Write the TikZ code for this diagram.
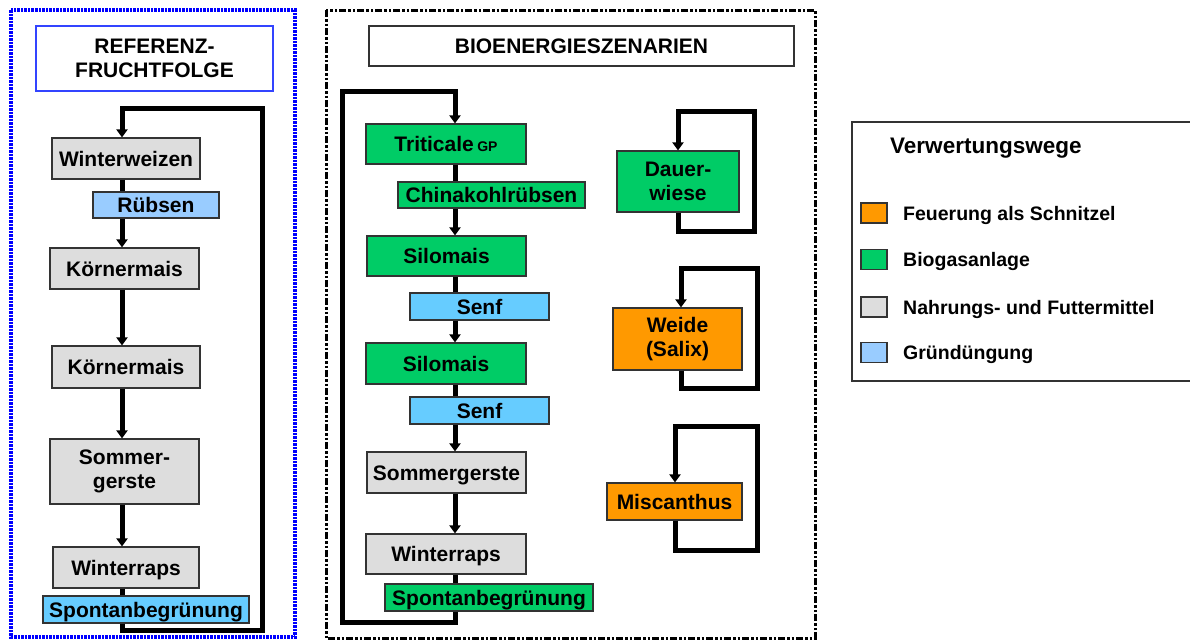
\documentclass[tikz,border=0pt]{standalone}
\usepackage{fontspec}
\setmainfont{Liberation Sans}
\usetikzlibrary{arrows.meta}
\definecolor{cgreen}{HTML}{00CC66}
\definecolor{corange}{HTML}{FF9900}
\definecolor{cgray}{HTML}{DDDDDD}
\definecolor{cblue}{HTML}{99CCFF}
\definecolor{ccyan}{HTML}{66CCFF}
\definecolor{frameblue}{HTML}{0000FF}
\definecolor{titleblue}{HTML}{3344FF}
\definecolor{edge}{HTML}{333333}
\begin{document}
\begin{tikzpicture}[x=1pt,y=-1pt,
  crop/.style={draw=edge, line width=1.2pt, inner sep=0pt, font=\fontsize{21}{24}\selectfont\bfseries},
  one/.style={crop, text height=15pt, text depth=0pt},
  multi/.style={crop, align=center},
  flow/.style={line width=5pt, line join=miter, -{Triangle[width=11pt,length=8pt]}},
  link/.style={line width=5pt, line join=miter},
  legtext/.style={anchor=west, inner sep=0pt, font=\fontsize{19.5}{22}\selectfont\bfseries, text height=14pt, text depth=0pt},
  swatch/.style={draw=edge, line width=1.2pt, minimum width=26pt, minimum height=20pt, inner sep=0pt},
]
\useasboundingbox (0,0) rectangle (1190,641);
\clip (0,0) rectangle (1190,641);

% frames
\draw[frameblue, line width=3.5pt, dash pattern=on 2.5pt off 1pt] (11,10) rectangle (295,637);
\draw[black, line width=3pt, dash pattern=on 7pt off 2pt on 2.5pt off 2pt on 2.5pt off 2pt] (326,10) rectangle (815,638);

% titles
\node[draw=titleblue, line width=1.2pt, minimum width=237pt, minimum height=65pt, inner sep=0pt, align=center,
      font=\fontsize{21}{24}\selectfont\bfseries] (t1) at (154.5,58.5) {REFERENZ-\\FRUCHTFOLGE};
\node[draw=edge, line width=1.5pt, minimum width=425pt, minimum height=40pt, inner sep=0pt,
      font=\fontsize{21}{24}\selectfont\bfseries, text height=15pt, text depth=0pt] (t2) at (581.5,46) {BIOENERGIESZENARIEN};

% left column
\node[one, fill=cgray, minimum width=148pt, minimum height=41pt] (ww) at (126,158.5) {Winterweizen};
\node[one, fill=cblue, minimum width=126pt, minimum height=26pt] (rueb) at (156,205) {Rübsen};
\node[one, fill=cgray, minimum width=149pt, minimum height=41pt] (km1) at (124.5,268.5) {Körnermais};
\node[one, fill=cgray, minimum width=148pt, minimum height=42pt] (km2) at (126,367) {Körnermais};
\node[multi, fill=cgray, minimum width=149pt, minimum height=65pt] (sg) at (124.5,471.5) {Sommer-\\gerste};
\node[one, fill=cgray, minimum width=146pt, minimum height=41pt] (wr) at (126,567.5) {Winterraps};
\node[one, fill=ccyan, minimum width=206pt, minimum height=27pt] (sp) at (146,609.5) {Spontanbegrünung};

\coordinate (L1) at (122,630);
\coordinate (L2) at (262,630);
\coordinate (L3) at (262,108);
\coordinate (L4) at (122,108);
\draw[link] (ww.south -| L1) -- (rueb.north -| L1);
\draw[flow] (rueb.south -| L1) -- (km1.north -| L1);
\draw[flow] (km1.south -| L1) -- (km2.north -| L1);
\draw[flow] (km2.south -| L1) -- (sg.north -| L1);
\draw[flow] (sg.south -| L1) -- (wr.north -| L1);
\draw[link] (wr.south -| L1) -- (sp.north -| L1);
\draw[flow] (sp.south -| L1) -- (L1) -- (L2) -- (L3) -- (L4) -- (ww.north -| L4);

% middle column
\node[one, fill=cgreen, minimum width=160pt, minimum height=40pt] (tri) at (446,144) {Triticale\,{\fontsize{14}{14}\selectfont GP}};
\node[one, fill=cgreen, minimum width=187pt, minimum height=26pt] (chk) at (491.5,195) {Chinakohlrübsen};
\node[one, fill=cgreen, minimum width=159pt, minimum height=40pt] (sm1) at (446.5,256) {Silomais};
\node[one, fill=ccyan, minimum width=139pt, minimum height=27pt] (senf1) at (479.5,306.5) {Senf};
\node[one, fill=cgreen, minimum width=160pt, minimum height=41pt] (sm2) at (446,363.5) {Silomais};
\node[one, fill=ccyan, minimum width=139pt, minimum height=27pt] (senf2) at (479.5,410.5) {Senf};
\node[one, fill=cgray, minimum width=159pt, minimum height=41pt] (sg2) at (446.5,472.5) {Sommergerste};
\node[one, fill=cgray, minimum width=160pt, minimum height=40pt] (wr2) at (446,554) {Winterraps};
\node[one, fill=cgreen, minimum width=208pt, minimum height=27pt] (sp2) at (489,597.5) {Spontanbegrünung};

\coordinate (M1) at (455,622);
\coordinate (M2) at (342,622);
\coordinate (M3) at (342,91);
\coordinate (M4) at (455,91);
\draw[link] (tri.south -| M1) -- (chk.north -| M1);
\draw[flow] (chk.south -| M1) -- (sm1.north -| M1);
\draw[link] (sm1.south -| M1) -- (senf1.north -| M1);
\draw[flow] (senf1.south -| M1) -- (sm2.north -| M1);
\draw[link] (sm2.south -| M1) -- (senf2.north -| M1);
\draw[flow] (senf2.south -| M1) -- (sg2.north -| M1);
\draw[flow] (sg2.south -| M1) -- (wr2.north -| M1);
\draw[link] (wr2.south -| M1) -- (sp2.north -| M1);
\draw[flow] (sp2.south -| M1) -- (M1) -- (M2) -- (M3) -- (M4) -- (tri.north -| M4);

% perennial crops
\node[multi, fill=cgreen, minimum width=122pt, minimum height=61pt] (dw) at (678,181.5) {Dauer-\\wiese};
\node[multi, fill=corange, minimum width=129pt, minimum height=62pt] (wd) at (677.5,339) {Weide\\(Salix)};
\node[one, fill=corange, minimum width=135pt, minimum height=37pt] (mc) at (674.5,501.5) {Miscanthus};

\coordinate (D1) at (678,231);
\coordinate (D2) at (754,231);
\coordinate (D3) at (754,111);
\coordinate (D4) at (678,111);
\draw[flow] (dw.south -| D1) -- (D1) -- (D2) -- (D3) -- (D4) -- (dw.north -| D4);

\coordinate (W1) at (681,388);
\coordinate (W2) at (757,388);
\coordinate (W3) at (757,268);
\coordinate (W4) at (681,268);
\draw[flow] (wd.south -| W1) -- (W1) -- (W2) -- (W3) -- (W4) -- (wd.north -| W4);

\coordinate (C1) at (675,550);
\coordinate (C2) at (757,550);
\coordinate (C3) at (757,426);
\coordinate (C4) at (675,426);
\draw[flow] (mc.south -| C1) -- (C1) -- (C2) -- (C3) -- (C4) -- (mc.north -| C4);

% legend
\draw[edge, line width=1.3pt] (852,122) rectangle (1200,381);
\node[anchor=west, inner sep=0pt, font=\fontsize{22.5}{24}\selectfont\bfseries, text height=16pt, text depth=0pt] (lt) at (890,145) {Verwertungswege};
\node[swatch, fill=corange] (s1) at (874,213) {};
\node[swatch, fill=cgreen] (s2) at (874,259.5) {};
\node[swatch, fill=cgray] (s3) at (874,307) {};
\node[swatch, fill=cblue] (s4) at (874,352.5) {};
\node[legtext] (l1) at (903,213) {Feuerung als Schnitzel};
\node[legtext] (l2) at (903,259.5) {Biogasanlage};
\node[legtext] (l3) at (903,307) {Nahrungs- und Futtermittel};
\node[legtext] (l4) at (903,352.5) {Gründüngung};
\end{tikzpicture}
\end{document}
